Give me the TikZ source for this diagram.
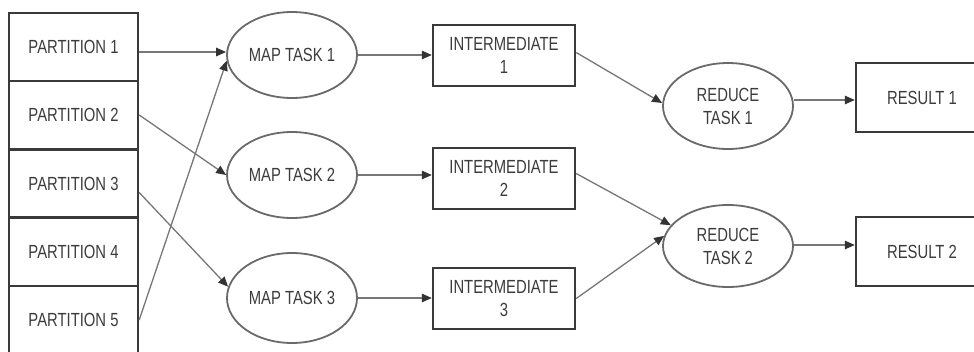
\documentclass[tikz,border=0pt]{standalone}
\usepackage{fontspec}
\setmainfont{Liberation Sans}[FakeStretch=0.78]
\usetikzlibrary{shapes.geometric,arrows.meta}
\definecolor{boxline}{HTML}{3A3A3A}
\definecolor{ovalline}{HTML}{6A6A6A}
\definecolor{wire}{HTML}{777777}
\definecolor{tip}{HTML}{333333}
\definecolor{label}{HTML}{3C3C3C}
\tikzset{
  every node/.style={font=\fontsize{19}{23}\selectfont, text=label, inner sep=0pt, align=center},
  part/.style={draw=boxline, line width=2.4pt, rectangle, minimum width=129pt, minimum height=68pt},
  inter/.style={draw=boxline, line width=2.4pt, rectangle, minimum width=142pt, minimum height=61pt},
  result/.style={draw=boxline, line width=2.4pt, rectangle, minimum width=134pt, minimum height=69pt},
  oval/.style={draw=ovalline, line width=1.8pt, ellipse, minimum width=130pt, minimum height=86pt},
  arr/.style={draw=wire, line width=1.3pt, -{Triangle[length=10pt,width=8.5pt,color=tip]}},
}
\begin{document}
\begin{tikzpicture}[x=1pt,y=-1pt]
\fill[white] (0,0) rectangle (974,351);
\useasboundingbox (0,0) rectangle (974,351);

% input partitions, stacked
\node[part] (p1) at (73.5,47) {PARTITION 1};
\node[part] (p2) at (73.5,115) {PARTITION 2};
\node[part] (p3) at (73.5,183.5) {PARTITION 3};
\node[part] (p4) at (73.5,252) {PARTITION 4};
\node[part] (p5) at (73.5,320) {PARTITION 5};

% map tasks
\node[oval] (m1) at (292,55) {MAP TASK 1};
\node[oval] (m2) at (292,175) {MAP TASK 2};
\node[oval, minimum height=90pt] (m3) at (292,298) {MAP TASK 3};

% intermediate results
\node[inter] (i1) at (504,55.5) {INTERMEDIATE\\1};
\node[inter] (i2) at (504,178.5) {INTERMEDIATE\\2};
\node[inter] (i3) at (504,298.5) {INTERMEDIATE\\3};

% reduce tasks
\node[oval] (r1) at (728,106) {REDUCE\\TASK 1};
\node[oval, minimum height=82pt] (r2) at (728,246) {REDUCE\\TASK 2};

% outputs
\node[result] (o1) at (923,97.5) {};
\node (o1t) at (922,97.5) {RESULT 1};
\node[result] (o2) at (923,251.5) {};
\node (o2t) at (922,251.5) {RESULT 2};

% partitions to map tasks
\draw[arr] ([yshift=-5pt]p1.east) -- ([yshift=3pt]m1.west);
\draw[arr] (p5.east) -- (m1.185);
\draw[arr] (p2.east) -- (m2.west);
\draw[arr] ([yshift=-9pt]p3.east) -- (m3.170);

% map tasks to intermediates
\draw[arr] (m1.east) -- (m1.east -| i1.west);
\draw[arr] (m2.east) -- (m2.east -| i2.west);
\draw[arr] (m3.east) -- (m3.east -| i3.west);

% intermediates to reduce tasks
\draw[arr] ([yshift=3pt]i1.east) -- ([yshift=3pt]r1.west);
\draw[arr] ([yshift=5pt]i2.east) -- (r2.160);
\draw[arr] (i3.east) -- (r2.171);

% reduce tasks to outputs
\draw[arr] ([yshift=6pt]r1.east) -- ([yshift=-2.5pt]o1.west);
\draw[arr] ([yshift=1pt]r2.east) -- ([yshift=6.5pt]o2.west);
\end{tikzpicture}
\end{document}
